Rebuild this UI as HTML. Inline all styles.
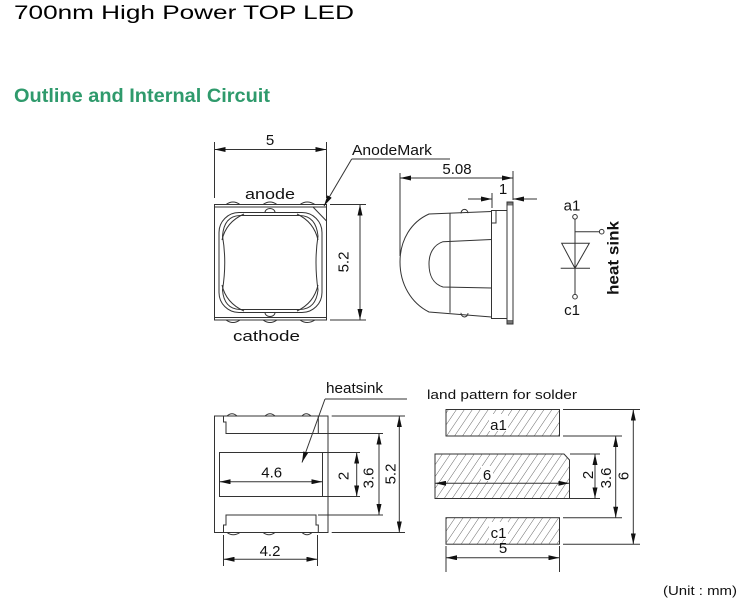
<!DOCTYPE html>
<html><head><meta charset="utf-8"><style>
html,body{margin:0;padding:0;background:#fff;}
svg{display:block;}
text{font-family:"Liberation Sans",Arial,sans-serif;fill:#111;}
</style></head><body>
<svg width="750" height="614" viewBox="0 0 750 614" xmlns="http://www.w3.org/2000/svg">
<defs>
<marker id="ar" markerWidth="11" markerHeight="5" refX="11" refY="2.5" orient="auto-start-reverse" markerUnits="userSpaceOnUse">
<path d="M0,0 L11,2.5 L0,5 Z" fill="#111"/>
</marker>
<pattern id="hatch" patternUnits="userSpaceOnUse" width="6.6" height="20" patternTransform="rotate(34)">
<line x1="0" y1="0" x2="0" y2="20" stroke="#444" stroke-width="0.8"/>
</pattern>
</defs>

<!-- Headings -->
<text x="14" y="19" font-size="19" textLength="340" lengthAdjust="spacingAndGlyphs" style="fill:#000">700nm High Power TOP LED</text>
<text x="14" y="102" font-size="19" font-weight="bold" textLength="256" lengthAdjust="spacingAndGlyphs" style="fill:#2f9a6c">Outline and Internal Circuit</text>

<g stroke="#333" stroke-width="1" fill="none">
<!-- ============ TOP VIEW ============ -->
<line x1="214.5" y1="142" x2="214.5" y2="198"/>
<line x1="326.5" y1="142" x2="326.5" y2="198"/>
<line x1="214.5" y1="149.5" x2="326.5" y2="149.5" marker-start="url(#ar)" marker-end="url(#ar)"/>
<rect x="214.5" y="204.5" width="112" height="115.5"/>
<line x1="214.5" y1="207" x2="326.5" y2="207"/>
<line x1="214.5" y1="317.5" x2="326.5" y2="317.5"/>
<path d="M226,204.5 Q233,199.5 240,204.5 M263,204.5 Q270,199.5 277,204.5 M300,204.5 Q307,199.5 315,204.5"/>
<path d="M226,320 Q233,325 240,320 M263,320 Q270,325 277,320 M300,320 Q307,325 315,320"/>
<line x1="313" y1="207" x2="326.5" y2="221"/>
<path d="M265,212.5 A5,4 0 0 1 275,212.5"/>
<path d="M265,312.5 A5,4 0 0 0 275,312.5"/>
<rect x="219" y="212.5" width="103" height="100" rx="20"/>
<path d="M240,215.5 L300,215.5 Q316,216 318,236 Q314,262 318,290 Q316,309 300,309.5 L240,309.5 Q224,309 222.5,290 Q227,262 222.5,236 Q224,216 240,215.5 Z"/>
<path d="M222,240 Q226,222 244,214 M318,240 Q314,222 297,214 M222,285 Q226,303 244,311 M318,285 Q314,303 297,311"/>
<!-- 5.2 dim -->
<line x1="330" y1="204.5" x2="366" y2="204.5"/>
<line x1="330" y1="320" x2="366" y2="320"/>
<line x1="360" y1="204.5" x2="360" y2="320" marker-start="url(#ar)" marker-end="url(#ar)"/>
<!-- AnodeMark leader -->
<line x1="351.7" y1="159" x2="450" y2="159"/>
<line x1="351.7" y1="159" x2="324" y2="206" marker-end="url(#ar)"/>

<!-- ============ SIDE VIEW ============ -->
<line x1="400" y1="173" x2="400" y2="256"/>
<line x1="513" y1="171" x2="513" y2="200"/>
<line x1="400" y1="178" x2="513" y2="178" marker-start="url(#ar)" marker-end="url(#ar)"/>
<line x1="492" y1="193" x2="492" y2="208"/>
<line x1="468" y1="199" x2="492" y2="199" marker-end="url(#ar)"/>
<line x1="537" y1="199" x2="513" y2="199" marker-end="url(#ar)"/>
<rect x="507" y="202" width="6" height="122"/>
<rect x="507.5" y="202.5" width="5" height="3" fill="#777" stroke="none"/>
<rect x="507.5" y="320" width="5" height="3.5" fill="#777" stroke="none"/>
<rect x="491.5" y="210.5" width="15.5" height="108"/>
<path d="M496,210.5 L496,223 L491.5,223"/>
<path d="M491.5,211.5 L429,214 C411,222 400,240 400,262 C400,284 411,303 429,312 L491.5,317"/>
<line x1="450" y1="213.2" x2="450" y2="312.8"/>
<path d="M491.5,239.5 L443,241.7 C433,245 429,254 429,264 C429,275 433,284 443,287 L491.5,288"/>
<path d="M461,213.5 A3.5,4 0 0 1 468,213.2"/>
<path d="M461,312.8 A3.5,4 0 0 0 468,313.1"/>

<!-- ============ CIRCUIT ============ -->
<circle cx="575" cy="216.8" r="2.3"/>
<line x1="575" y1="219.1" x2="575" y2="294.4"/>
<circle cx="575" cy="296.7" r="2.3"/>
<line x1="575" y1="231.7" x2="599.4" y2="231.7"/>
<circle cx="601.7" cy="231.7" r="2.3"/>
<path d="M561.7,243.3 L589.3,243.3 L575,268.3 Z"/>
<line x1="560.7" y1="268.3" x2="590" y2="268.3"/>

<!-- ============ BOTTOM VIEW ============ -->
<rect x="214.5" y="416" width="113.5" height="116.5"/>
<path d="M227,416 Q232,411.5 237,416 M265,416 Q270,411.5 275,416 M302,416 Q306,411.5 311,416"/>
<path d="M227,532.5 Q233,537 240,532.5 M263,532.5 Q269,537 275,532.5 M302,532.5 Q307,537 312,532.5"/>
<path d="M223.5,416 L223.5,422 L226,422 L226,433.5 L318.3,433.5 L318.3,416"/>
<path d="M223.5,532.5 L223.5,525 L226,525 L226,515 L316,515 L316,525 L318.3,525 L318.3,532.5"/>
<rect x="219.5" y="452.5" width="103" height="44"/>
<line x1="219.5" y1="481.7" x2="322.5" y2="481.7" marker-start="url(#ar)" marker-end="url(#ar)"/>
<line x1="325" y1="399" x2="407" y2="399"/>
<line x1="325" y1="399" x2="302" y2="462.5" marker-end="url(#ar)"/>
<line x1="331.7" y1="416" x2="405" y2="416"/>
<line x1="318" y1="433.5" x2="383" y2="433.5"/>
<line x1="322.5" y1="452.5" x2="360" y2="452.5"/>
<line x1="322.5" y1="496.5" x2="360" y2="496.5"/>
<line x1="318" y1="515" x2="383" y2="515"/>
<line x1="331.7" y1="532.5" x2="405" y2="532.5"/>
<line x1="356.7" y1="452.5" x2="356.7" y2="496.5" marker-start="url(#ar)" marker-end="url(#ar)"/>
<line x1="379" y1="433.5" x2="379" y2="515" marker-start="url(#ar)" marker-end="url(#ar)"/>
<line x1="399.3" y1="416" x2="399.3" y2="532.5" marker-start="url(#ar)" marker-end="url(#ar)"/>
<line x1="223.5" y1="535" x2="223.5" y2="566"/>
<line x1="317.5" y1="535" x2="317.5" y2="566"/>
<line x1="223.5" y1="559.3" x2="317.5" y2="559.3" marker-start="url(#ar)" marker-end="url(#ar)"/>
</g>

<!-- ============ LAND PATTERN ============ -->
<g stroke="#333" stroke-width="1">
<rect x="446" y="409.5" width="113.5" height="26.5" fill="url(#hatch)"/>
<path d="M435,454 L564,454 L569.5,460 L569.5,498.5 L435,498.5 Z" fill="url(#hatch)"/>
<rect x="446" y="517.7" width="113.5" height="26.5" fill="url(#hatch)"/>
</g>
<g fill="#fff" stroke="none">
<rect x="489" y="414" width="19" height="17"/>
<rect x="481" y="466" width="12" height="15"/>
<rect x="489" y="522" width="19" height="17"/>
</g>
<g stroke="#333" stroke-width="1" fill="none">
<line x1="435" y1="483.3" x2="569.5" y2="483.3" marker-start="url(#ar)" marker-end="url(#ar)"/>
<line x1="446" y1="546" x2="446" y2="572"/>
<line x1="559.5" y1="546" x2="559.5" y2="572"/>
<line x1="446" y1="557.7" x2="559.5" y2="557.7" marker-start="url(#ar)" marker-end="url(#ar)"/>
<line x1="563" y1="409.5" x2="640" y2="409.5"/>
<line x1="563" y1="436" x2="622" y2="436"/>
<line x1="570" y1="454" x2="600" y2="454"/>
<line x1="570" y1="498.5" x2="600" y2="498.5"/>
<line x1="563" y1="517.7" x2="622" y2="517.7"/>
<line x1="563" y1="544.3" x2="640" y2="544.3"/>
<line x1="595" y1="454" x2="595" y2="498.5" marker-start="url(#ar)" marker-end="url(#ar)"/>
<line x1="615.7" y1="436" x2="615.7" y2="517.7" marker-start="url(#ar)" marker-end="url(#ar)"/>
<line x1="633.3" y1="409.5" x2="633.3" y2="544.3" marker-start="url(#ar)" marker-end="url(#ar)"/>
</g>

<!-- ============ TEXT ============ -->
<g font-size="15">
<text x="270" y="145" text-anchor="middle">5</text>
<text x="245" y="199" textLength="50" lengthAdjust="spacingAndGlyphs">anode</text>
<text x="233" y="341" textLength="67" lengthAdjust="spacingAndGlyphs">cathode</text>
<text x="352" y="155" textLength="80" lengthAdjust="spacingAndGlyphs">AnodeMark</text>
<text transform="translate(344,262) rotate(-90)" text-anchor="middle" dominant-baseline="central">5.2</text>
<text x="457" y="174" text-anchor="middle">5.08</text>
<text x="503" y="194" text-anchor="middle">1</text>
<text x="572" y="210.7" text-anchor="middle">a1</text>
<text x="572" y="315" text-anchor="middle">c1</text>
<text transform="translate(614,258) rotate(-90)" text-anchor="middle" dominant-baseline="central" font-weight="bold" font-size="16" textLength="74" lengthAdjust="spacingAndGlyphs">heat sink</text>

<text x="326" y="393" textLength="57" lengthAdjust="spacingAndGlyphs">heatsink</text>
<text x="271.7" y="477.5" text-anchor="middle">4.6</text>
<text transform="translate(344,476) rotate(-90)" text-anchor="middle" dominant-baseline="central">2</text>
<text transform="translate(369,478) rotate(-90)" text-anchor="middle" dominant-baseline="central">3.6</text>
<text transform="translate(391,474) rotate(-90)" text-anchor="middle" dominant-baseline="central">5.2</text>
<text x="270" y="556" text-anchor="middle">4.2</text>

<text x="427" y="399" font-size="13" textLength="150" lengthAdjust="spacingAndGlyphs">land pattern for solder</text>
<text x="498.5" y="430" text-anchor="middle">a1</text>
<text x="487" y="480" text-anchor="middle">6</text>
<text x="498.5" y="538" text-anchor="middle">c1</text>
<text x="503" y="553" text-anchor="middle">5</text>
<text transform="translate(588.5,475) rotate(-90)" text-anchor="middle" dominant-baseline="central">2</text>
<text transform="translate(606.5,478) rotate(-90)" text-anchor="middle" dominant-baseline="central">3.6</text>
<text transform="translate(624,476) rotate(-90)" text-anchor="middle" dominant-baseline="central">6</text>
</g>
<text x="663" y="595" font-size="13" textLength="74" lengthAdjust="spacingAndGlyphs">(Unit : mm)</text>
</svg>
</body></html>
